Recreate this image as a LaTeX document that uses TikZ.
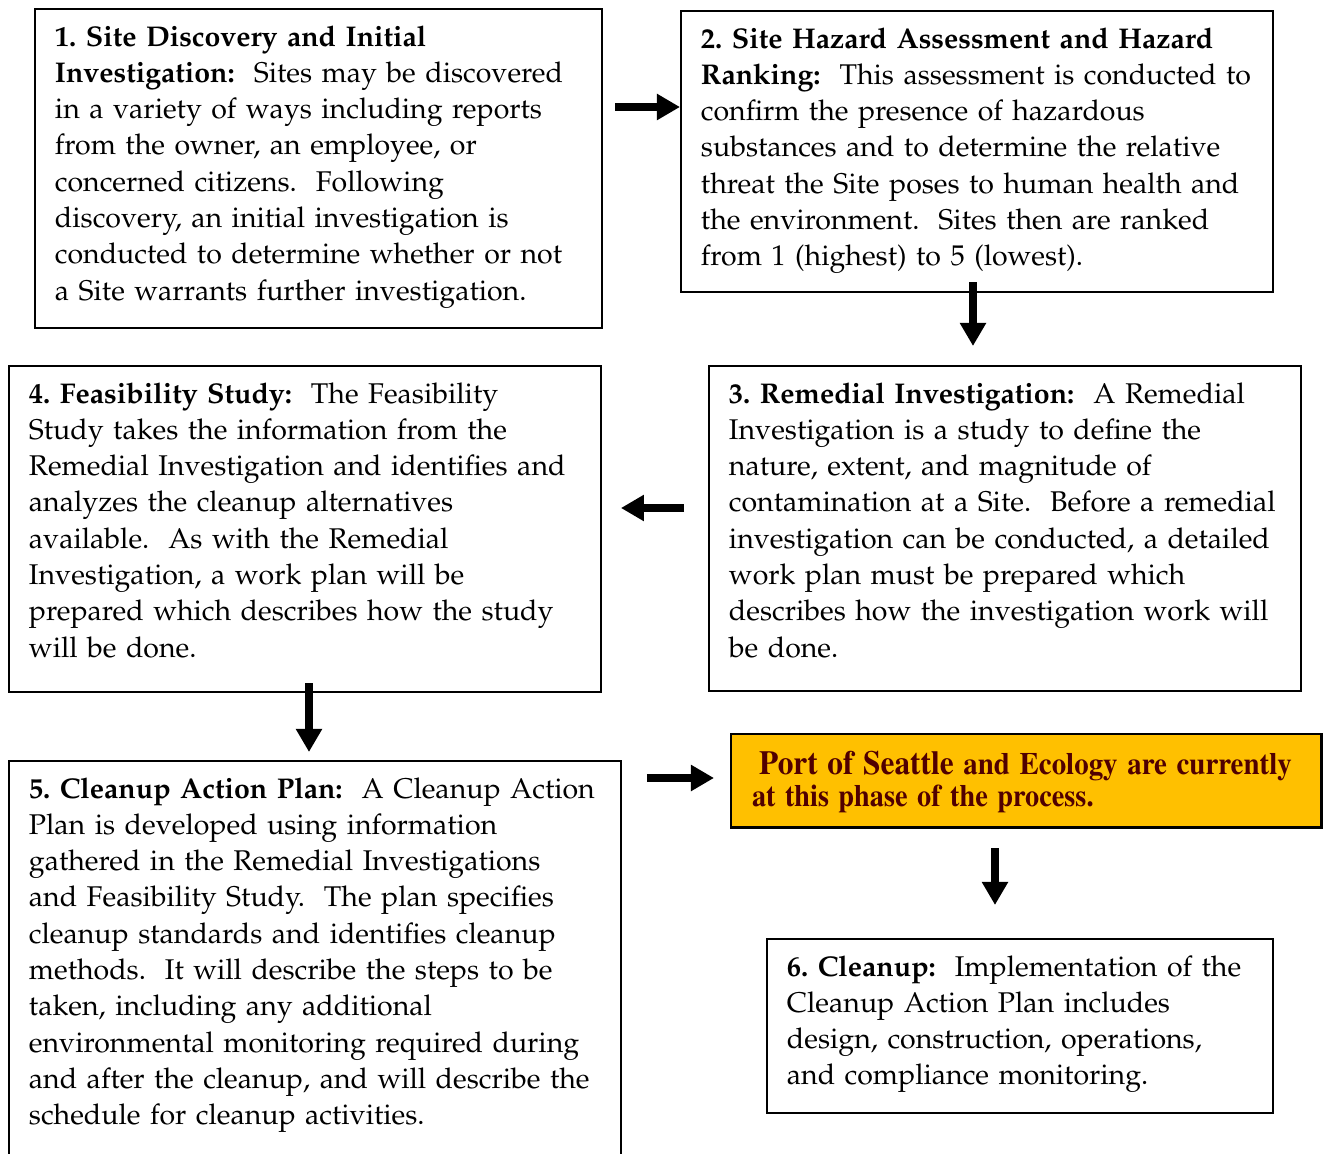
\documentclass[tikz,border=0pt]{standalone}
\usepackage[T1]{fontenc}
\renewcommand{\rmdefault}{ppl}
\usepackage{graphicx}
\usepackage{tikz}
\usetikzlibrary{arrows.meta}

\definecolor{phasefill}{RGB}{255,192,0}
\definecolor{phasetext}{RGB}{80,0,0}
\frenchspacing
\hyphenpenalty=10000

\begin{document}
\begin{tikzpicture}[x=0.3857pt,y=-0.3857pt,
        step box/.style={draw,line width=0.8pt,anchor=north west,align=left,
            inner xsep=7.7pt,inner ysep=0pt,outer sep=0pt,text height=14.3pt,
            font=\fontsize{11}{14}\selectfont},
        phase box/.style={step box,fill=phasefill,line width=1.1pt,text=phasetext,
            inner xsep=8.1pt,text height=15.8pt,text depth=20.1pt,text width=211.7pt,
            font=\fontfamily{ptm}\fontsize{12}{12.3}\selectfont\bfseries},
        flow/.style={line width=2.9pt,-{Triangle[width=9.6pt,length=8.9pt]}}]

    \clip (0,0) rectangle (1329,1154);

    \node[step box] [text width=203.3pt,text depth=108.8pt] (b1) at (35,9)
        {\textbf{1. Site Discovery and Initial}\\
         \textbf{Investigation:}\ \ Sites may be discovered\\
         in a variety of ways including reports\\
         from the owner, an employee, or\\
         concerned citizens.\ \ Following\\
         discovery, an initial investigation is\\
         conducted to determine whether or not\\
         a Site warrants further investigation.};
    \node[step box] [text width=212.9pt,text depth=94.1pt] (b2) at (681,11)
        {\textbf{2. Site Hazard Assessment and Hazard}\\
         \textbf{Ranking:}\ \ This assessment is conducted to\\
         confirm the presence of hazardous\\
         substances and to determine the relative\\
         threat the Site poses to human health and\\
         the environment.\ \ Sites then are ranked\\
         from 1 (highest) to 5 (lowest).};
    \node[step box] [text width=212.9pt,text depth=111.1pt] (b3) at (709,366)
        {\textbf{3. Remedial Investigation:}\ \ A Remedial\\
         Investigation is a study to define the\\
         nature, extent, and magnitude of\\
         contamination at a Site.\ \ Before a remedial\\
         investigation can be conducted, a detailed\\
         work plan must be prepared which\\
         describes how the investigation work will\\
         be done.};
    \node[step box] [text width=212.9pt,text depth=111.5pt] (b4) at (9,366)
        {\textbf{4. Feasibility Study:}\ \ The Feasibility\\
         Study takes the information from the\\
         Remedial Investigation and identifies and\\
         analyzes the cleanup alternatives\\
         available.\ \ As with the Remedial\\
         Investigation, a work plan will be\\
         prepared which describes how the study\\
         will be done.};
    \node[step box] [text width=220.6pt,text depth=147.3pt] (b5) at (9,761)
        {\textbf{5. Cleanup Action Plan:}\ \ A Cleanup Action\\
         Plan is developed using information\\
         gathered in the Remedial Investigations\\
         and Feasibility Study.\ \ The plan specifies\\
         cleanup standards and identifies cleanup\\
         methods.\ \ It will describe the steps to be\\
         taken, including any additional\\
         environmental monitoring required during\\
         and after the cleanup, and will describe the\\
         schedule for cleanup activities.};
    \node[phase box] (now) at (731,734)
        {\scalebox{0.93}[1]{\hspace{3pt}{\fontsize{13}{12.3}\selectfont Port of Seattle} and Ecology are currently}\\
         \scalebox{0.91}[1]{at this phase of the process.}};
    \node[step box] [text width=179.7pt,text depth=52.8pt] (b6) at (767,939)
        {\textbf{6. Cleanup:}\ \ Implementation of the\\
         Cleanup Action Plan includes\\
         design, construction, operations,\\
         and compliance monitoring.};

    \path[flow]
    ([shift={(13,98)}]b1.north east) edge ([shift={(-1,96)}]b2.north west)
    ([shift={(292,-10)}]b2.south west) edge ([shift={(264,-20)}]b3.north west)
    ([shift={(-25,142)}]b3.north west) edge ([shift={(20,142)}]b4.north east)
    ([shift={(300,-9)}]b4.south west) edge ([shift={(300,-9)}]b5.north west)
    ([shift={(26,17)}]b5.north east) edge ([shift={(-17,44)}]now.north west)
    ([shift={(264,21)}]now.south west) edge ([shift={(228,-34)}]b6.north west)
    ;
\end{tikzpicture}
\end{document}
